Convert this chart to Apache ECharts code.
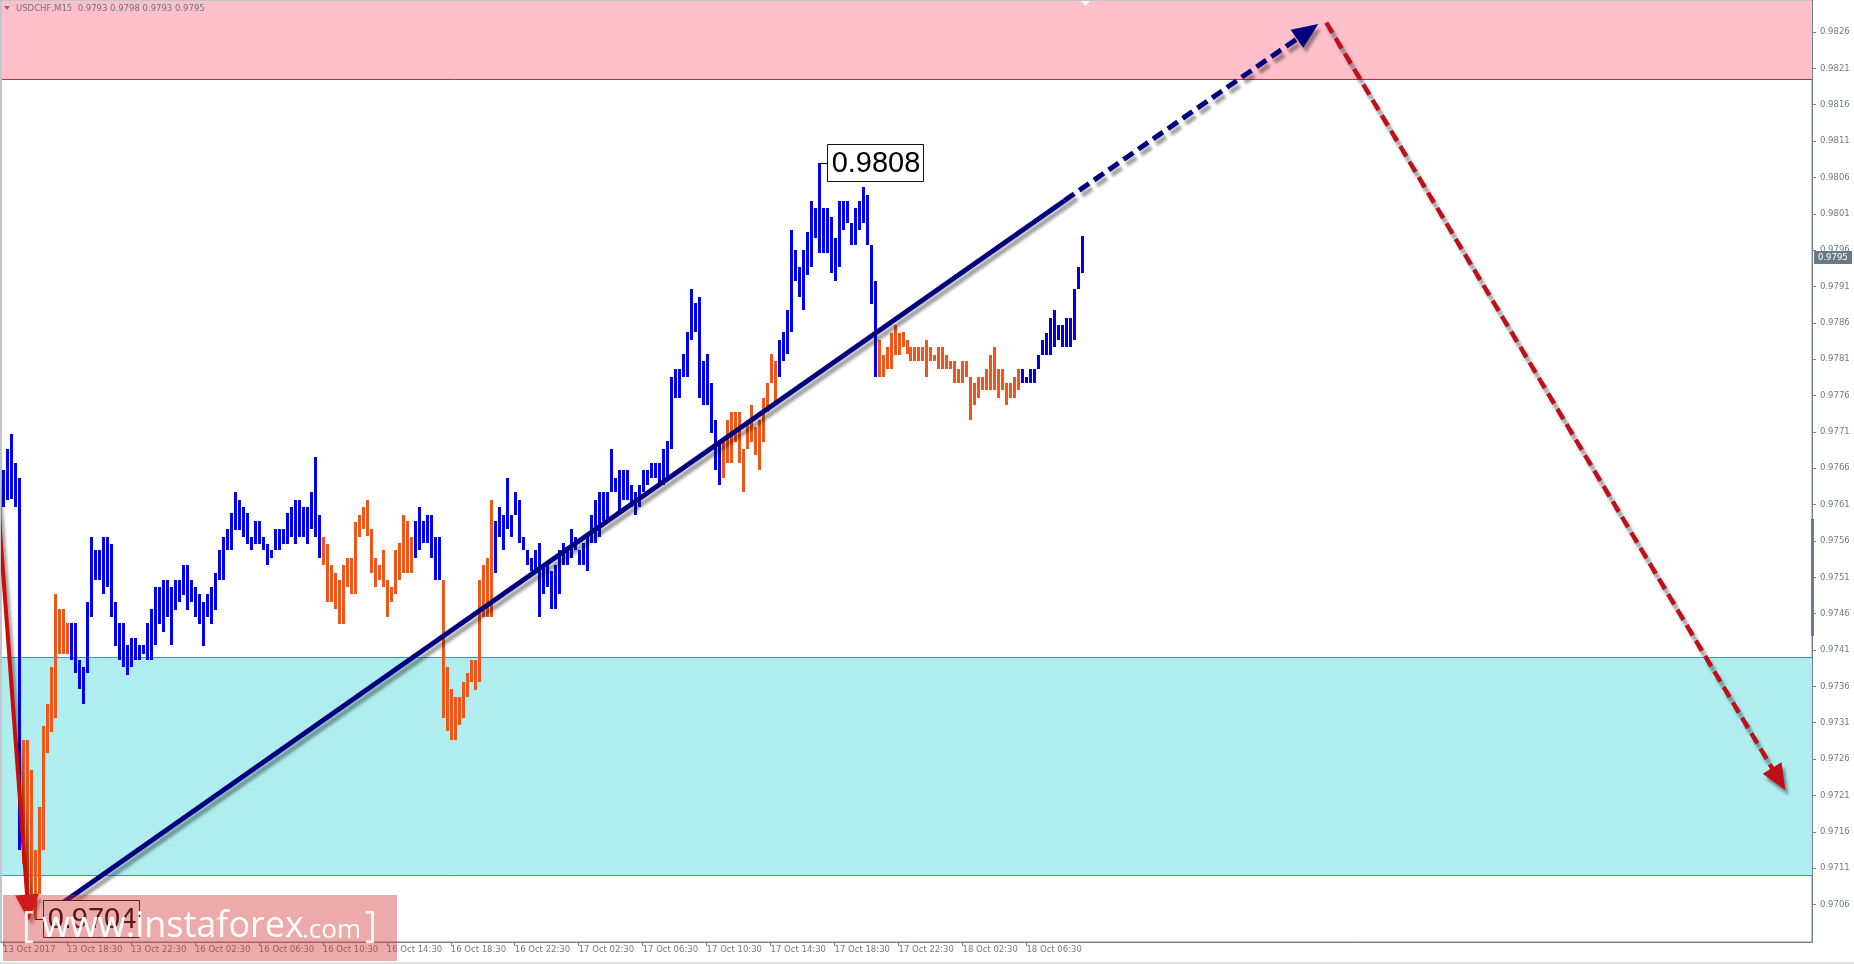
<!DOCTYPE html>
<html><head><meta charset="utf-8">
<script src="https://cdn.jsdelivr.net/npm/echarts@6/dist/echarts.min.js"></script>
<style>html,body{margin:0;padding:0;background:#fff;}#c{width:1854px;height:964px;}</style>
</head><body><div id="c"></div>
<script>
// ---- data ----
const barHigh = [
0.97657,0.97686,0.97707,0.97667,0.97646,0.97286,0.97286,0.97245,0.97135,0.97194,
0.97306,0.97336,0.97387,0.97487,0.97466,0.97466,0.97447,0.97447,0.97447,0.97396,
0.97387,0.97476,0.97566,0.97547,0.97547,0.97566,0.97566,0.97556,0.97476,0.97447,
0.97447,0.97417,0.97426,0.97426,0.97417,0.97417,0.97447,0.97466,0.97497,0.97497,
0.97506,0.97506,0.97497,0.97506,0.97506,0.97527,0.97527,0.97506,0.97497,0.97487,
0.97476,0.97487,0.97497,0.97516,0.97547,0.97566,0.97577,0.97598,0.97627,0.97616,
0.97606,0.97598,0.97566,0.97588,0.97588,0.97566,0.97556,0.97547,0.97577,0.97577,
0.97577,0.97598,0.97606,0.97616,0.97616,0.97606,0.97606,0.97627,0.97676,0.97596,
0.97566,0.97556,0.97527,0.97516,0.97506,0.97527,0.97536,0.97536,0.97586,0.97596,
0.97607,0.97617,0.97576,0.97536,0.97527,0.97548,0.97506,0.97496,0.97548,0.97557,
0.97596,0.97587,0.97566,0.97587,0.97607,0.97587,0.97596,0.97596,0.97566,0.97566,
0.97506,0.97387,0.97357,0.97346,0.97346,0.97366,0.97378,0.97396,0.97396,0.97506,
0.97527,0.97536,0.97617,0.97587,0.97607,0.97596,0.97646,0.97596,0.97628,0.97617,
0.97566,0.97548,0.97536,0.97548,0.97557,0.97527,0.97527,0.97518,0.97527,0.97548,
0.97557,0.97548,0.97577,0.97566,0.97548,0.97557,0.97566,0.97596,0.97617,0.97628,
0.97628,0.97628,0.97686,0.97646,0.97658,0.97658,0.97658,0.97637,0.97628,0.97637,
0.97658,0.97658,0.97667,0.97667,0.97667,0.97686,0.97697,0.97786,0.97797,0.97797,
0.97817,0.97848,0.97907,0.97887,0.97896,0.97807,0.97817,0.97777,0.97726,0.97696,
0.97696,0.97726,0.97738,0.97738,0.97738,0.97687,0.97726,0.97747,0.97717,0.97726,
0.97756,0.97777,0.97817,0.97807,0.97836,0.97848,0.97878,0.97987,0.97960,0.97937,
0.97960,0.97985,0.98027,0.98018,0.98080,0.98018,0.98018,0.98006,0.97976,0.98027,
0.98027,0.98027,0.97997,0.98018,0.98027,0.98047,0.98036,0.97967,0.97917,0.97836,
0.97816,0.97827,0.97846,0.97857,0.97846,0.97848,0.97836,0.97827,0.97827,0.97827,
0.97827,0.97836,0.97827,0.97816,0.97827,0.97827,0.97816,0.97807,0.97807,0.97797,
0.97807,0.97807,0.97786,0.97777,0.97786,0.97786,0.97797,0.97816,0.97827,0.97797,
0.97797,0.97777,0.97777,0.97786,0.97797,0.97797,0.97786,0.97797,0.97797,0.97816,
0.97836,0.97846,0.97866,0.97878,0.97857,0.97857,0.97866,0.97866,0.97907,0.97937,
0.97980];
const barLow = [
0.97606,0.97616,0.97618,0.97606,0.97135,0.97116,0.97075,0.97070,0.97040,0.97075,
0.97135,0.97268,0.97297,0.97316,0.97405,0.97405,0.97405,0.97396,0.97378,0.97356,
0.97336,0.97378,0.97455,0.97506,0.97506,0.97487,0.97497,0.97455,0.97415,0.97396,
0.97387,0.97375,0.97387,0.97396,0.97396,0.97405,0.97396,0.97396,0.97417,0.97446,
0.97435,0.97455,0.97417,0.97465,0.97476,0.97485,0.97465,0.97476,0.97455,0.97446,
0.97415,0.97455,0.97446,0.97465,0.97506,0.97506,0.97547,0.97547,0.97575,0.97575,
0.97566,0.97556,0.97547,0.97556,0.97556,0.97547,0.97527,0.97536,0.97547,0.97547,
0.97556,0.97556,0.97566,0.97556,0.97566,0.97566,0.97556,0.97577,0.97566,0.97536,
0.97527,0.97476,0.97476,0.97467,0.97446,0.97446,0.97497,0.97487,0.97487,0.97566,
0.97576,0.97567,0.97516,0.97497,0.97506,0.97497,0.97456,0.97476,0.97487,0.97506,
0.97516,0.97516,0.97516,0.97536,0.97548,0.97557,0.97557,0.97536,0.97506,0.97506,
0.97316,0.97298,0.97286,0.97286,0.97307,0.97316,0.97346,0.97366,0.97355,0.97366,
0.97456,0.97456,0.97456,0.97516,0.97566,0.97548,0.97577,0.97566,0.97596,0.97557,
0.97548,0.97527,0.97518,0.97518,0.97456,0.97487,0.97497,0.97466,0.97466,0.97487,
0.97527,0.97527,0.97536,0.97548,0.97527,0.97527,0.97518,0.97557,0.97557,0.97566,
0.97587,0.97587,0.97628,0.97628,0.97600,0.97617,0.97617,0.97607,0.97596,0.97607,
0.97628,0.97637,0.97646,0.97646,0.97637,0.97637,0.97646,0.97686,0.97756,0.97756,
0.97786,0.97786,0.97836,0.97848,0.97756,0.97747,0.97747,0.97708,0.97658,0.97637,
0.97646,0.97667,0.97667,0.97696,0.97667,0.97628,0.97687,0.97696,0.97678,0.97658,
0.97696,0.97738,0.97777,0.97747,0.97786,0.97807,0.97817,0.97848,0.97917,0.97896,
0.97878,0.97926,0.97937,0.97976,0.97956,0.97956,0.97956,0.97928,0.97917,0.97937,
0.97988,0.97997,0.97967,0.97967,0.97988,0.97997,0.97967,0.97886,0.97786,0.97786,
0.97786,0.97797,0.97797,0.97816,0.97816,0.97827,0.97817,0.97807,0.97807,0.97807,
0.97807,0.97786,0.97807,0.97807,0.97797,0.97797,0.97797,0.97797,0.97777,0.97777,
0.97777,0.97786,0.97726,0.97747,0.97756,0.97768,0.97768,0.97768,0.97768,0.97756,
0.97768,0.97747,0.97756,0.97756,0.97768,0.97777,0.97777,0.97777,0.97777,0.97797,
0.97816,0.97816,0.97816,0.97827,0.97836,0.97827,0.97827,0.97827,0.97836,0.97907,
0.97928];
const orangeRanges = [[5,16],[80,102],[110,122],[180,193],[219,254]];

const yTicks = [0.9706,0.9711,0.9716,0.9721,0.9726,0.9731,0.9736,0.9741,0.9746,0.9751,
  0.9756,0.9761,0.9766,0.9771,0.9776,0.9781,0.9786,0.9791,0.9796,0.9801,0.9806,0.9811,
  0.9816,0.9821,0.9826];
const xTickIdx = [0,16,32,48,64,80,96,112,128,144,160,176,192,208,224,240,256];
const xTickLabels = ['13 Oct 2017','13 Oct 18:30','13 Oct 22:30','16 Oct 02:30','16 Oct 06:30',
  '16 Oct 10:30','16 Oct 14:30','16 Oct 18:30','16 Oct 22:30','17 Oct 02:30','17 Oct 06:30',
  '17 Oct 10:30','17 Oct 14:30','17 Oct 18:30','17 Oct 22:30','18 Oct 02:30','18 Oct 06:30'];

const resistanceZone = [0.98195, 0.98304];
const supportZone = [0.9710, 0.9740];
const lastPrice = 0.9795;
const headerText = 'USDCHF,M15  0.9793 0.9798 0.9793 0.9795';

const downWave = [[-3, 0.9774], [6.5, 0.97038]];
const upWave = [[11.2, 0.97048], [265.5, 0.98028]];
const upForecast = [[265.5, 0.98028], [329, 0.98271]];
const downForecast = [[331, 0.98273], [445.85, 0.97217]];

const extremeIdx = [204, 8];
const extremePrice = [0.9808, 0.9704];

// ---- chart ----
const Y_MIN = 0.970084, Y_MAX = 0.98304;
const BLUE = '#0000EE', ORANGE = '#F0561A';
const AX = '#78818A', LBL = '#6F7A86';
const FONT = '"DejaVu Sans", sans-serif';
const shadow = {shadowColor:'rgba(0,0,0,0.38)', shadowBlur:3, shadowOffsetX:3, shadowOffsetY:5};

function isOrange(i){ return orangeRanges.some(r => i >= r[0] && i <= r[1]); }
const barData = barHigh.map((h, i) => [i, h, barLow[i], isOrange(i) ? 1 : 0]);

function arrowItem(P, color, width, dash, headLen, headW){
  const n = P.length, pts = P.map(p => p.slice()), children = [];
  let head = null;
  if (headLen){
    const a = P[n-2], b = P[n-1];
    const dx = b[0]-a[0], dy = b[1]-a[1], len = Math.hypot(dx, dy);
    const ux = dx/len, uy = dy/len;
    const bx = b[0]-ux*headLen, by = b[1]-uy*headLen;
    pts[n-1] = [bx+ux*3, by+uy*3];
    head = {type:'polygon', shape:{points:[[b[0],b[1]],[bx-uy*headW/2, by+ux*headW/2],[bx+uy*headW/2, by-ux*headW/2]]},
      style:Object.assign({fill:color}, shadow)};
  }
  children.push({type:'polyline', shape:{points:pts},
    style:Object.assign({stroke:color, lineWidth:width, lineDash:dash || null, fill:null, lineCap:'butt'}, shadow)});
  if (head) children.push(head);
  return {type:'group', children};
}

function waveSeries(pts, color, width, dash, headLen, headW, z){
  return {type:'custom', z:z, clip:true, silent:true, data:pts, encode:{x:0, y:1},
    renderItem(params, api){
      if (params.dataIndex !== 0) return {type:'group', children:[]};
      const P = pts.map(p => api.coord(p));
      return arrowItem(P, color, width, dash, headLen, headW);
    }};
}

const chart = echarts.init(document.getElementById('c'), null, {renderer:'canvas'});
chart.setOption({
  animation:false,
  backgroundColor:'#ffffff',
  grid:{left:0, top:0, right:42, bottom:22, show:true, borderColor:'#868D94', borderWidth:1, backgroundColor:'transparent'},
  xAxis:{type:'value', min:-0.5, max:452.5, splitLine:{show:false},
    axisLine:{show:true, onZero:false, lineStyle:{color:AX, width:1}},
    axisTick:{show:true, inside:false, customValues:xTickIdx, length:4, lineStyle:{color:AX}},
    axisLabel:{show:true, customValues:xTickIdx, align:'left', margin:3, color:LBL, fontSize:8.5, fontFamily:FONT,
      formatter: v => { const k = xTickIdx.indexOf(Math.round(v)); return k >= 0 ? xTickLabels[k] : ''; }}},
  yAxis:{type:'value', position:'right', min:Y_MIN, max:Y_MAX, splitLine:{show:false}, scale:true,
    axisLine:{show:true, onZero:false, lineStyle:{color:AX, width:1}},
    axisTick:{show:true, inside:false, customValues:yTicks, length:4, lineStyle:{color:AX}},
    axisLabel:{show:true, customValues:yTicks, margin:8, color:LBL, fontSize:8.5, fontFamily:FONT,
      formatter: v => v.toFixed(4)}},
  series:[
    {type:'custom', z:1, silent:true, data:[[0, 0]], encode:{x:0, y:1},
      renderItem(params, api){
        const cs = params.coordSys;
        const rTop = api.coord([0, resistanceZone[1]])[1], rBot = api.coord([0, resistanceZone[0]])[1];
        const sTop = api.coord([0, supportZone[1]])[1], sBot = api.coord([0, supportZone[0]])[1];
        const x0 = cs.x + 1, w = cs.width - 1;
        return {type:'group', children:[
          {type:'rect', shape:{x:x0, y:rTop + 1, width:w, height:rBot - rTop - 1}, style:{fill:'#FFC0CB'}},
          {type:'line', shape:{x1:x0, y1:Math.round(rBot)+0.5, x2:x0+w, y2:Math.round(rBot)+0.5}, style:{stroke:'#D8262A', lineWidth:1}},
          {type:'rect', shape:{x:x0, y:sTop, width:w, height:sBot - sTop}, style:{fill:'#AFEDEE'}},
          {type:'line', shape:{x1:x0, y1:Math.round(sTop)+0.5, x2:x0+w, y2:Math.round(sTop)+0.5}, style:{stroke:'#3F8ED8', lineWidth:1}},
          {type:'line', shape:{x1:x0, y1:Math.round(sBot)+0.5, x2:x0+w, y2:Math.round(sBot)+0.5}, style:{stroke:'#3F8ED8', lineWidth:1}}
        ]};
      }},
    {type:'custom', z:2, silent:true, data:barData, encode:{x:0, y:[1,2]},
      renderItem(params, api){
        const i = api.value(0), top = api.coord([i, api.value(1)]), bot = api.coord([i, api.value(2)]);
        const x = Math.round(top[0]) - 1, y = Math.round(top[1]);
        return {type:'rect', shape:{x:x, y:y, width:3, height:Math.max(2, Math.round(bot[1]) - y)},
          style:{fill: api.value(3) ? ORANGE : BLUE}};
      }},
    waveSeries(downWave, '#CE0A0A', 4, null, 26, 24, 3),
    waveSeries(upWave, '#00007E', 5, null, 0, 0, 3),
    waveSeries(upForecast, '#00007E', 5, [12, 6], 26, 22, 3),
    waveSeries(downForecast, '#BE1018', 4.5, [12, 6], 26, 22, 3),
    {type:'custom', z:5, silent:true, clip:false, data:extremeIdx.map((i, k) => [i, extremePrice[k]]), encode:{x:0, y:1},
      renderItem(params, api){
        const p = api.coord([api.value(0), api.value(1)]);
        const bx = Math.round(p[0]) + 8, by = Math.round(p[1]) - 19;
        return {type:'group', children:[
          {type:'line', shape:{x1:p[0], y1:Math.round(p[1])+0.5, x2:bx, y2:Math.round(p[1])+0.5}, style:{stroke:'#000', lineWidth:1}},
          {type:'rect', shape:{x:bx+0.5, y:by+0.5, width:96, height:37}, style:{fill:'#ffffff', stroke:'#111', lineWidth:1}},
          {type:'text', style:{text:api.value(1).toFixed(4), x:bx+49, y:by+20, align:'center', verticalAlign:'middle',
            font:'29px "Liberation Sans", Arial, sans-serif', fill:'#000'}}
        ]};
      }},
    {type:'custom', z:6, silent:true, clip:false, data:[[0, lastPrice]], encode:{x:0, y:1},
      renderItem(params, api){
        const cs = params.coordSys, y = Math.round(api.coord([0, api.value(1)])[1]);
        const x = cs.x + cs.width + 2;
        return {type:'group', children:[
          {type:'rect', shape:{x:x, y:y-6, width:38, height:13}, style:{fill:'#6B7987'}},
          {type:'text', style:{text:api.value(1).toFixed(4), x:x+4, y:y+0.5, align:'left', verticalAlign:'middle',
            font:'8.5px ' + FONT, fill:'#ffffff'}}
        ]};
      }}
  ],
  graphic:[
    {type:'polygon', z:50, silent:true, shape:{points:[[4,6],[10,6],[7,10]]}, style:{fill:'#6E747B'}},
    {type:'text', z:50, silent:true, style:{text:headerText, x:16, y:8.5, verticalAlign:'middle', font:'8.5px ' + FONT, fill:'#6E747B'}},
    {type:'polygon', z:50, silent:true, shape:{points:[[1081,1],[1090,1],[1085.5,6]]}, style:{fill:'#ffffff'}},
    {type:'rect', z:50, silent:true, shape:{x:1811, y:519, width:3, height:117}, style:{fill:'#6C7A86'}},
    {type:'rect', z:50, silent:true, shape:{x:0, y:962, width:1854, height:2}, style:{fill:'#E2E2E2'}},
    {type:'rect', z:100, silent:true, shape:{x:3, y:895, width:394, height:66}, style:{fill:'rgba(212,52,52,0.42)'}},
    {type:'text', z:101, silent:true, style:{text:'[', x:22, y:927, verticalAlign:'middle', font:'36px "Open Sans", sans-serif', fill:'rgba(255,255,255,0.9)'}},
    {type:'text', z:101, silent:true, style:{text:'www.instaforex', x:42, y:927, verticalAlign:'middle', font:'36px "Open Sans", sans-serif', fill:'#ffffff'}},
    {type:'text', z:101, silent:true, style:{text:'.com', x:302, y:931, verticalAlign:'middle', font:'26px "Open Sans", sans-serif', fill:'#ffffff'}},
    {type:'text', z:101, silent:true, style:{text:']', x:365, y:927, verticalAlign:'middle', font:'36px "Open Sans", sans-serif', fill:'rgba(255,255,255,0.9)'}}
  ]
});
</script>
</body></html>
